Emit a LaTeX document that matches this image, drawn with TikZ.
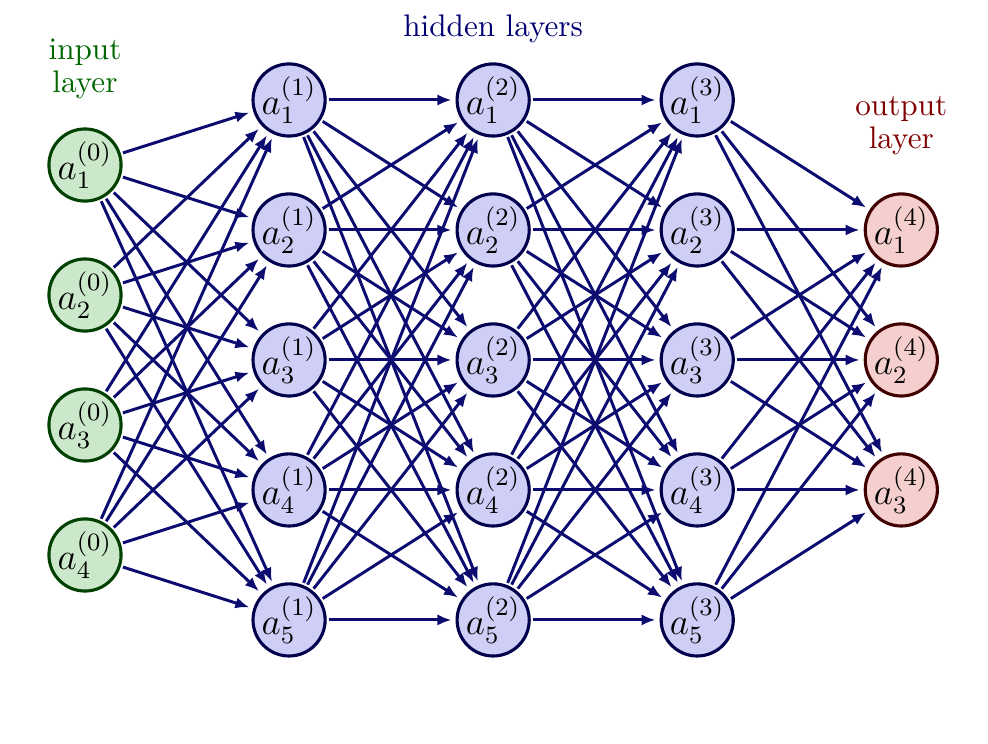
\documentclass[tikz,border=0pt]{standalone}
\usepackage{amsmath}
\usepackage{xcolor}
\definecolor{edgecolor}{RGB}{12,12,112}
\definecolor{inpfill}{RGB}{204,232,202}
\definecolor{hidfill}{RGB}{206,206,246}
\definecolor{outfill}{RGB}{245,206,206}
\usetikzlibrary{arrows.meta, positioning}

\begin{document}
\begin{tikzpicture}[
    inp/.style={circle, draw=green!25!black, fill=inpfill, line width=1pt, minimum size=0.79cm, inner sep=0pt, font=\large},
    hid/.style={circle, draw=blue!30!black, fill=hidfill, line width=1pt, minimum size=0.79cm, inner sep=0pt, font=\large},
    outp/.style={circle, draw=red!25!black, fill=outfill, line width=1pt, minimum size=0.79cm, inner sep=0pt, font=\large},
    conn/.style={-{Latex[length=4.5pt, width=3.6pt]}, edgecolor, line width=0.95pt, shorten <=0.7pt, shorten >=1.3pt},
    node distance=1.465cm and 2.3cm, on grid]

        \useasboundingbox (-0.958,-6.525) rectangle (10.177,1.860);

        % Eingabeschicht
        \node[inp] (in1) {$a_1^{(0)}$};
        \node[inp, below=of in1] (in2) {$a_2^{(0)}$};
        \node[inp, below=of in2] (in3) {$a_3^{(0)}$};
        \node[inp, below=of in3] (in4) {$a_4^{(0)}$};

        % Erste versteckte Schicht
        \node[hid, above right=0.733cm and 2.3cm of in1] (h1-1) {$a_1^{(1)}$};
        \node[hid, below=of h1-1] (h1-2) {$a_2^{(1)}$};
        \node[hid, below=of h1-2] (h1-3) {$a_3^{(1)}$};
        \node[hid, below=of h1-3] (h1-4) {$a_4^{(1)}$};
        \node[hid, below=of h1-4] (h1-5) {$a_5^{(1)}$};

        % Zweite versteckte Schicht
        \node[hid, right=of h1-1] (h2-1) {$a_1^{(2)}$};
        \node[hid, right=of h1-2] (h2-2) {$a_2^{(2)}$};
        \node[hid, right=of h1-3] (h2-3) {$a_3^{(2)}$};
        \node[hid, right=of h1-4] (h2-4) {$a_4^{(2)}$};
        \node[hid, right=of h1-5] (h2-5) {$a_5^{(2)}$};

        % Dritte versteckte Schicht
        \node[hid, right=of h2-1] (h3-1) {$a_1^{(3)}$};
        \node[hid, right=of h2-2] (h3-2) {$a_2^{(3)}$};
        \node[hid, right=of h2-3] (h3-3) {$a_3^{(3)}$};
        \node[hid, right=of h2-4] (h3-4) {$a_4^{(3)}$};
        \node[hid, right=of h2-5] (h3-5) {$a_5^{(3)}$};

        % Ausgabeschicht
        \node[outp, right=of h3-2] (out1) {$a_1^{(4)}$};
        \node[outp, right=of h3-3] (out2) {$a_2^{(4)}$};
        \node[outp, right=of h3-4] (out3) {$a_3^{(4)}$};

        % Beschriftungen
        \node[anchor=south, align=center, text=green!40!black] (lblin) at ([yshift=0.2cm]in1.north) {input\\[-1.6pt]layer};
        \node[anchor=south, text=blue!45!black] (lblhid) at ([yshift=0.1cm]h2-1.north) {hidden layers};
        \node[anchor=south, align=center, text=red!50!black] (lblout) at ([yshift=0.3cm]out1.north) {output\\[-1.6pt]layer};

        % Pfeile
        \foreach \i in {1,...,4}
            \foreach \j in {1,...,5}
                \draw[conn] (in\i) -- (h1-\j);
        \foreach \i in {1,...,5}
            \foreach \j in {1,...,5} {
                \draw[conn] (h1-\i) -- (h2-\j);
                \draw[conn] (h2-\i) -- (h3-\j);
            }
        \foreach \i in {1,...,5}
            \foreach \j in {1,...,3}
                \draw[conn] (h3-\i) -- (out\j);

\end{tikzpicture}
\end{document}
